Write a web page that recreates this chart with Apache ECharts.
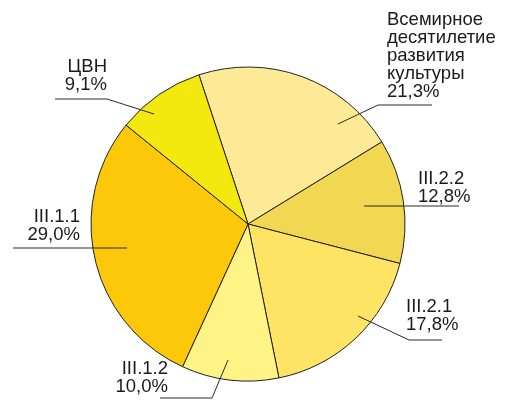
<!DOCTYPE html>
<html>
<head>
<meta charset="utf-8">
<script src="https://cdn.jsdelivr.net/npm/echarts@6/dist/echarts.min.js"></script>
<style>
  html, body { margin: 0; padding: 0; background: #fff; }
  #chart { width: 507px; height: 401px; }
</style>
</head>
<body>
<div id="chart"></div>
<script>
// slices, clockwise from the top-left edge
const names = ['Всемирное\nдесятилетие\nразвития\nкультуры', 'III.2.2', 'III.2.1', 'III.1.2', 'III.1.1', 'ЦВН']
const shares = [21.3, 12.8, 17.8, 10.0, 29.0, 9.1]
const colors = ['#fee997', '#f2d752', '#fee465', '#fef384', '#fdc70a', '#f3e90e']

// where each label sits and how its leader runs (pixels)
const labelSpots = [
  { x: 387, y: 11, align: 'left', line: [[338, 124], [378, 105], [432, 105]] },
  { x: 418, y: 170, align: 'left', line: [[364, 206], [411, 206], [459, 206]] },
  { x: 406, y: 298, align: 'left', line: [[358, 316], [409, 340], [442, 340]] },
  { x: 168, y: 360, align: 'right', line: [[228, 360], [212, 398], [160, 398]] },
  { x: 80, y: 208, align: 'right', line: [[127, 248], [70, 248], [13, 248]] },
  { x: 107, y: 58, align: 'right', line: [[154, 114], [107, 99], [55, 99]] },
]

const myChart = echarts.init(document.getElementById('chart'), null, { renderer: 'canvas' })

const option = {
  backgroundColor: '#fff',
  animation: false,
  // leaders start inside the slices, so they are drawn separately
  graphic: labelSpots.map(s => ({
    type: 'polyline',
    z: 100,
    silent: true,
    shape: { points: s.line },
    style: { stroke: '#2a2a2a', lineWidth: 1, fill: null },
  })),
  series: [
    {
      type: 'pie',
      center: [248, 224],
      radius: 157,
      startAngle: 108.2,
      clockwise: true,
      avoidLabelOverlap: false,
      itemStyle: {
        borderColor: '#222',
        borderWidth: 1,
      },
      label: {
        show: true,
        position: 'outside',
        formatter: p => p.name + '\n' + p.value.toFixed(1).replace('.', ',') + '%',
        fontFamily: 'Liberation Sans, Arial, sans-serif',
        fontSize: 18.5,
        lineHeight: 18,
        color: '#1a1a1a',
      },
      labelLine: { show: false },
      labelLayout: params => {
        const s = labelSpots[params.dataIndex]
        return {
          x: s.x,
          y: s.y,
          align: s.align,
          verticalAlign: 'top',
        }
      },
      emphasis: { disabled: true },
      data: names.map((n, i) => ({
        name: n,
        value: shares[i],
        itemStyle: { color: colors[i] },
      })),
    },
  ],
}

myChart.setOption(option)
</script>
</body>
</html>
